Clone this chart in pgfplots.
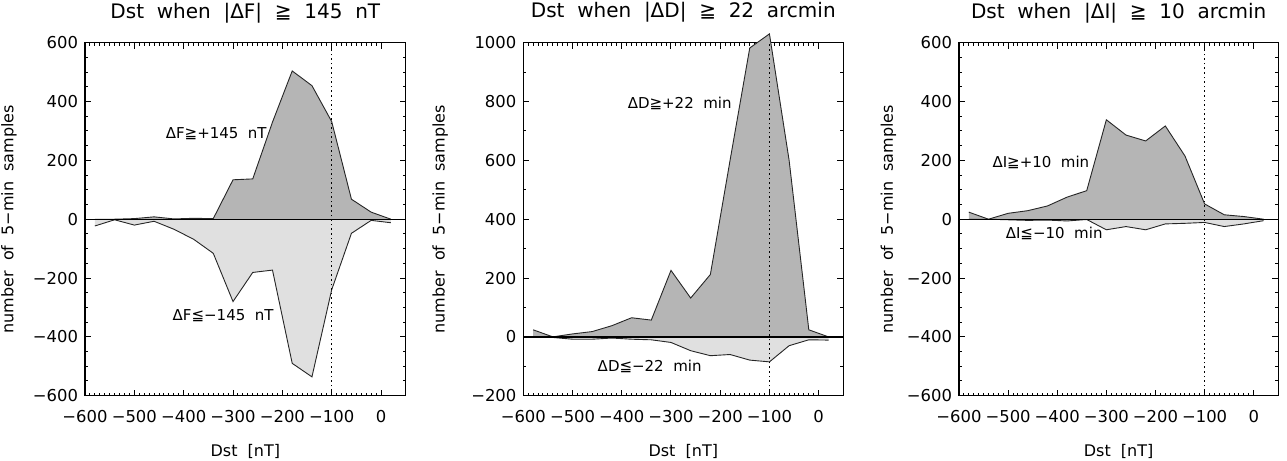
\documentclass[border=0pt]{standalone}
\usepackage{fontspec}
\setmainfont{DejaVu Sans}[WordSpace=2]
\usepackage{pgfplots}
\usepackage{pgfplotstable}
\pgfplotsset{compat=1.18}

\definecolor{posfill}{gray}{0.71}
\definecolor{negfill}{gray}{0.88}

\newcommand\tickfont{\fontsize{8.2}{9}\selectfont}
\newcommand\labfont{\fontsize{8}{10}\selectfont}
\newcommand\titfont{\fontsize{10}{12}\selectfont}
\newcommand\infont{\fontsize{7.5}{9}\selectfont}

% Dst bins (nT) vs number of 5-min samples
\pgfplotstableread{
x y
-580 0
-540 0
-500 2
-460 8
-420 1
-380 3
-340 2
-300 134
-260 137
-220 330
-180 504
-140 454
-100 332
-60 68
-20 24
20 0
}\Fpos
\pgfplotstableread{
x y
-580 -23
-540 -2
-500 -20
-460 -7
-420 -34
-380 -68
-340 -116
-300 -280
-260 -181
-220 -173
-180 -490
-140 -536
-100 -240
-60 -48
-20 -4
20 -12
}\Fneg
\pgfplotstableread{
x y
-580 24
-540 0
-500 10
-460 18
-420 38
-380 65
-340 57
-300 226
-260 132
-220 212
-180 600
-140 982
-100 1030
-60 600
-20 24
20 0
}\Dpos
\pgfplotstableread{
x y
-580 -2
-540 -2
-500 -8
-460 -8
-420 -4
-380 -8
-340 -10
-300 -19
-260 -47
-220 -64
-180 -60
-140 -79
-100 -85
-60 -30
-20 -10
20 -11
}\Dneg
\pgfplotstableread{
x y
-580 24
-540 0
-500 20
-460 29
-420 45
-380 75
-340 97
-300 338
-260 286
-220 266
-180 317
-140 215
-100 52
-60 15
-20 9
20 0
}\Ipos
\pgfplotstableread{
x y
-580 0
-540 0
-500 -2
-460 -4
-420 -3
-380 -6
-340 -1
-300 -36
-260 -25
-220 -36
-180 -16
-140 -14
-100 -11
-60 -25
-20 -16
20 -5
}\Ineg

\tikzset{
  posline/.style={black!85, line width=0.45pt},
  refdot/.style={dash pattern=on 0.8pt off 1.5pt, line width=0.8pt},
}

\pgfplotsset{
  dstpanel/.style={
    scale only axis,
    height=176.5pt,
    xmin=-600, xmax=50,
    xtick={-600,-500,-400,-300,-200,-100,0},
    xticklabels={−600,−500,−400,−300,−200,−100,0},
    minor x tick num=9,
    tick align=inside,
    major tick length=3pt,
    minor tick length=1.5pt,
    axis line style={line width=0.6pt},
    every tick/.style={black, line width=0.5pt},
    tick label style={font=\tickfont, inner sep=0pt},
    xticklabel style={anchor=base, yshift=-13.5pt},
    yticklabel style={anchor=east, xshift=-3.3pt},
    xlabel={Dst [nT]},
    xlabel style={at={(axis description cs:0.5,-0.173)}, anchor=base,
                  font=\labfont, inner sep=0pt},
    ylabel={number of 5−min samples},
    title style={at={(axis description cs:0.5,1.036)}, anchor=base,
                 font=\titfont, inner sep=0pt},
    clip=false,
  },
}

\begin{document}
\begin{tikzpicture}
  \useasboundingbox (0,0) rectangle (643.5pt,230.5pt);

  %% left: total field
  \begin{axis}[dstpanel, at={(42.5pt,32.65pt)}, width=160.35pt,
      ymin=-600, ymax=600,
      ytick={-600,-400,-200,0,200,400,600},
      yticklabels={−600,−400,−200,0,200,400,600},
      minor y tick num=3,
      ylabel style={at={(axis description cs:-0.223,0.5)}, anchor=base,
                    font=\labfont, inner sep=0pt},
      title={Dst when |ΔF| ≧ 145 nT}]
    \addplot[fill=posfill, draw=none] table {\Fpos} \closedcycle;
    \addplot[fill=negfill, draw=none] table {\Fneg} \closedcycle;
    \addplot[posline] table {\Fpos};
    \addplot[posline] table {\Fneg};
    \draw[line width=0.7pt] (axis cs:-600,0) -- (axis cs:50,0);
    \draw[refdot] (axis cs:-100,-600) -- (axis cs:-100,600);
    \node[anchor=east, inner sep=0pt, font=\infont] at (axis cs:-231,292) {ΔF≧+145 nT};
    \node[anchor=east, inner sep=0pt, font=\infont] at (axis cs:-217,-329) {ΔF≦−145 nT};
  \end{axis}

  %% middle: declination
  \begin{axis}[dstpanel, at={(261.65pt,32.65pt)}, width=160pt,
      ymin=-200, ymax=1000,
      ytick={-200,0,200,400,600,800,1000},
      yticklabels={−200,0,200,400,600,800,1000},
      minor y tick num=1,
      ylabel style={at={(axis description cs:-0.246,0.5)}, anchor=base,
                    font=\labfont, inner sep=0pt},
      title={Dst when |ΔD| ≧ 22 arcmin}]
    \addplot[fill=posfill, draw=none] table {\Dpos} \closedcycle;
    \addplot[fill=negfill, draw=none] table {\Dneg} \closedcycle;
    \addplot[posline] table {\Dpos};
    \addplot[posline] table {\Dneg};
    \draw[line width=0.7pt] (axis cs:-600,0) -- (axis cs:50,0);
    \draw[refdot] (axis cs:-100,-200) -- (axis cs:-100,1000);
    \node[anchor=east, inner sep=0pt, font=\infont] at (axis cs:-176,792) {ΔD≧+22 min};
    \node[anchor=east, inner sep=0pt, font=\infont] at (axis cs:-237,-99) {ΔD≦−22 min};
  \end{axis}

  %% right: inclination
  \begin{axis}[dstpanel, at={(479.5pt,32.65pt)}, width=159.65pt,
      ymin=-600, ymax=600,
      ytick={-600,-400,-200,0,200,400,600},
      yticklabels={−600,−400,−200,0,200,400,600},
      minor y tick num=3,
      ylabel style={at={(axis description cs:-0.207,0.5)}, anchor=base,
                    font=\labfont, inner sep=0pt},
      title={Dst when |ΔI| ≧ 10 arcmin}]
    \addplot[fill=posfill, draw=none] table {\Ipos} \closedcycle;
    \addplot[fill=negfill, draw=none] table {\Ineg} \closedcycle;
    \addplot[posline] table {\Ipos};
    \addplot[posline] table {\Ineg};
    \draw[line width=0.7pt] (axis cs:-600,0) -- (axis cs:50,0);
    \draw[refdot] (axis cs:-100,-600) -- (axis cs:-100,600);
    \node[anchor=east, inner sep=0pt, font=\infont] at (axis cs:-334,193) {ΔI≧+10 min};
    \node[anchor=east, inner sep=0pt, font=\infont] at (axis cs:-307,-48) {ΔI≦−10 min};
  \end{axis}
\end{tikzpicture}
\end{document}
